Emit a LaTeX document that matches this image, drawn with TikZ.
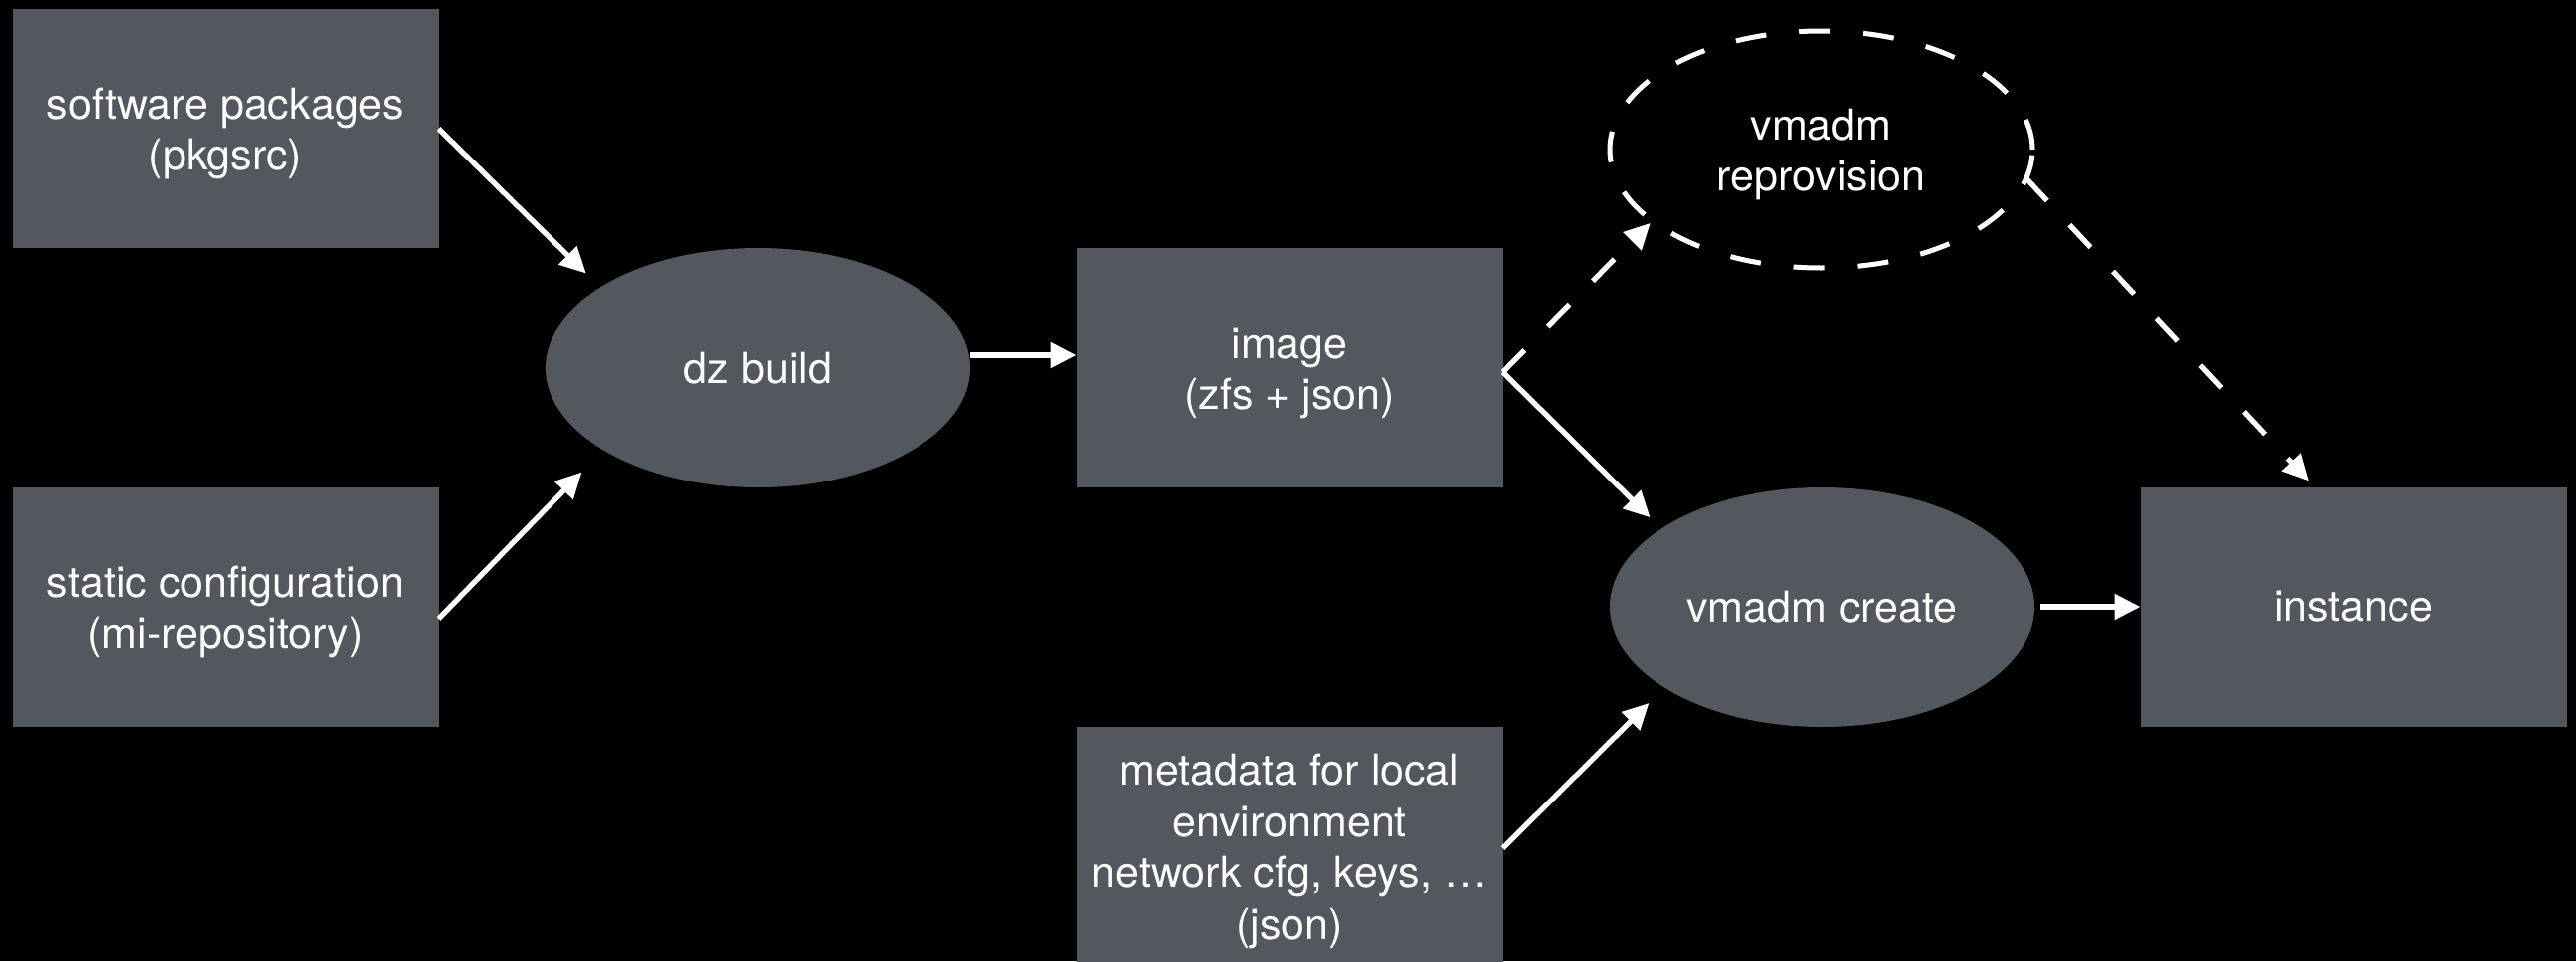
\documentclass[tikz,border=0pt]{standalone}
\usepackage{fontspec}
\setmainfont{TeX Gyre Heros}
\usetikzlibrary{arrows.meta,shapes.geometric}
\definecolor{boxgray}{RGB}{83,87,94}
% taller first line, so that stacked labels sit a little lower in their shapes
\newcommand\firstline{\rule{0pt}{41pt}}
\begin{document}
\begin{tikzpicture}[x=1pt,y=-1pt,
  every node/.style={text=white, font=\fontsize{43}{51.5}\selectfont,
    align=center, inner sep=0pt, outer sep=0pt},
  card/.style={fill=boxgray, minimum width=427pt, minimum height=240pt},
  blob/.style={ellipse, fill=boxgray, minimum width=426pt, minimum height=240pt},
  ghost/.style={ellipse, draw=white, line width=5pt,
    dash pattern=on 31pt off 33pt, minimum width=424pt, minimum height=238pt},
  link/.style={draw=white, line width=5.3pt, -{Triangle[length=26pt,width=25pt]}},
  dlink/.style={link, dash pattern=on 31pt off 33pt}]
  % page and background
  \fill[black] (0,0) rectangle (2583,964);
  \useasboundingbox (0,0) rectangle (2583,964);

  % sources, build steps and results
  \node[card] (pkg) at (226,129) {\firstline software packages\\(pkgsrc)};
  \node[card] (cfg) at (226,609) {\firstline static configuration\\(mi-repository)};
  \node[blob] (dz) at (760,369) {dz build};
  \node[card] (img) at (1293,369) {\firstline image\\(zfs + json)};
  \node[ghost] (rep) at (1826,150) {\firstline vmadm\\reprovision};
  \node[blob] (create) at (1827,609) {vmadm create};
  \node[card] (meta) at (1293,849) {\firstline metadata for local\\environment\\network cfg, keys, …\\(json)};
  \node[card] (inst) at (2360,609) {instance};

  % flow
  \draw[link, shorten >=20pt] (pkg.east) -- (dz.153.7);
  \draw[link, shorten >=31pt] ([yshift=-12pt]cfg.east) -- (dz.208.8);
  \draw[link] ([yshift=13pt]dz.east) -- ([yshift=13pt]img.west);
  \draw[dlink, shorten >=3pt] ([yshift=-4pt]img.east) -- (rep.203.85);
  \draw[link, shorten >=16pt] ([yshift=-4pt]img.east) -- (create.154.1);
  \draw[link, shorten >=22pt] ([yshift=-2pt]meta.east) -- (create.207.3);
  \draw[link, shorten <=6pt] (create.east) -- (inst.west);
  \draw[dlink, shorten >=9pt] (rep.-8.5) -- ([xshift=-39pt]inst.north);
\end{tikzpicture}
\end{document}
